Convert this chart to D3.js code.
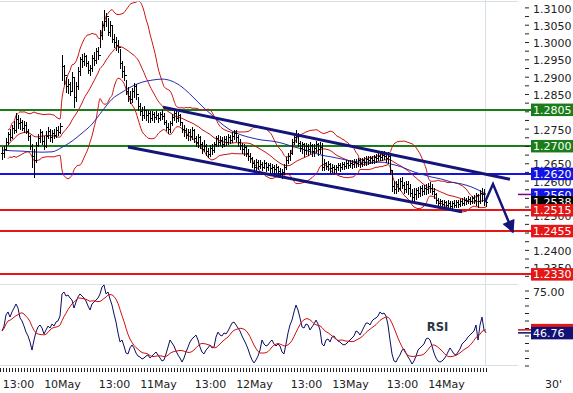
<!DOCTYPE html>
<html>
<head>
<meta charset="utf-8">
<script src="https://cdn.jsdelivr.net/npm/d3@7"></script>
<style>
  html, body { margin: 0; padding: 0; background: #fff; }
  svg { display: block; }
</style>
</head>
<body>
<svg id="chart" width="573" height="393"></svg>
<script>
// EUR/USD 30' bars, first bar 9 May 09:00
const startTime = Date.UTC(2010, 4, 9, 9, 0);
const barMinutes = 30;

const highs = [
  1.2697,1.2700,1.2722,1.2741,1.2748,1.2760,1.2772,1.2795,1.2790,1.2782,
  1.2776,1.2772,1.2768,1.2750,1.2733,1.2705,1.2690,1.2712,1.2735,1.2748,
  1.2742,1.2728,1.2744,1.2755,1.2748,1.2746,1.2750,1.2755,1.2758,1.2766,
  1.2963,1.2935,1.2900,1.2892,1.2885,1.2913,1.2895,1.2885,1.2927,1.2958,
  1.2965,1.2968,1.2962,1.2945,1.2935,1.2962,1.2970,1.2982,1.2985,1.3034,
  1.3062,1.3092,1.3085,1.3068,1.3060,1.3045,1.3022,1.3014,1.3005,1.2980,
  1.2945,1.2930,1.2890,1.2870,1.2858,1.2868,1.2881,1.2878,1.2840,1.2825,
  1.2812,1.2815,1.2805,1.2803,1.2800,1.2800,1.2798,1.2802,1.2795,1.2798,
  1.2803,1.2795,1.2775,1.2765,1.2772,1.2792,1.2803,1.2800,1.2798,1.2792,
  1.2770,1.2760,1.2752,1.2750,1.2748,1.2754,1.2748,1.2730,1.2735,1.2730,
  1.2712,1.2717,1.2705,1.2695,1.2702,1.2705,1.2712,1.2730,1.2732,1.2728,
  1.2725,1.2730,1.2728,1.2735,1.2732,1.2740,1.2746,1.2746,1.2732,1.2720,
  1.2708,1.2705,1.2700,1.2690,1.2680,1.2668,1.2660,1.2662,1.2660,1.2658,
  1.2655,1.2659,1.2655,1.2652,1.2650,1.2648,1.2645,1.2648,1.2642,1.2635,
  1.2632,1.2648,1.2668,1.2680,1.2688,1.2720,1.2735,1.2746,1.2738,1.2715,
  1.2712,1.2708,1.2708,1.2705,1.2710,1.2706,1.2705,1.2715,1.2708,1.2712,
  1.2708,1.2662,1.2655,1.2656,1.2650,1.2648,1.2645,1.2646,1.2652,1.2650,
  1.2655,1.2655,1.2658,1.2659,1.2660,1.2658,1.2662,1.2662,1.2665,1.2665,
  1.2666,1.2668,1.2670,1.2670,1.2672,1.2672,1.2675,1.2678,1.2680,1.2682,
  1.2685,1.2685,1.2680,1.2682,1.2678,1.2630,1.2600,1.2600,1.2605,1.2608,
  1.2610,1.2595,1.2600,1.2598,1.2590,1.2575,1.2578,1.2580,1.2582,1.2585,
  1.2588,1.2588,1.2590,1.2592,1.2595,1.2590,1.2578,1.2565,1.2550,1.2548,
  1.2545,1.2544,1.2542,1.2544,1.2540,1.2542,1.2543,1.2545,1.2544,1.2548,
  1.2550,1.2552,1.2550,1.2555,1.2552,1.2556,1.2558,1.2565,1.2562,1.2572,
  1.2578,1.2575,1.2555
];
const lows = [
  1.2662,1.2668,1.2688,1.2705,1.2718,1.2722,1.2738,1.2740,1.2752,1.2748,
  1.2745,1.2740,1.2736,1.2716,1.2690,1.2640,1.2611,1.2655,1.2700,1.2712,
  1.2705,1.2692,1.2698,1.2722,1.2715,1.2712,1.2722,1.2726,1.2732,1.2738,
  1.2890,1.2880,1.2855,1.2852,1.2846,1.2862,1.2812,1.2830,1.2865,1.2905,
  1.2928,1.2933,1.2930,1.2910,1.2904,1.2915,1.2935,1.2939,1.2950,1.2985,
  1.3010,1.3034,1.3045,1.3020,1.3018,1.3000,1.2985,1.2977,1.2970,1.2925,
  1.2900,1.2890,1.2850,1.2830,1.2824,1.2828,1.2840,1.2835,1.2805,1.2790,
  1.2775,1.2780,1.2775,1.2770,1.2768,1.2775,1.2770,1.2778,1.2770,1.2775,
  1.2778,1.2762,1.2745,1.2737,1.2740,1.2760,1.2775,1.2770,1.2772,1.2760,
  1.2740,1.2730,1.2722,1.2717,1.2718,1.2720,1.2712,1.2700,1.2697,1.2695,
  1.2680,1.2685,1.2675,1.2668,1.2670,1.2678,1.2682,1.2700,1.2700,1.2702,
  1.2697,1.2700,1.2702,1.2705,1.2708,1.2712,1.2720,1.2715,1.2700,1.2692,
  1.2680,1.2675,1.2670,1.2659,1.2655,1.2640,1.2630,1.2628,1.2632,1.2635,
  1.2630,1.2635,1.2628,1.2630,1.2625,1.2626,1.2622,1.2625,1.2620,1.2612,
  1.2607,1.2618,1.2632,1.2650,1.2660,1.2678,1.2705,1.2712,1.2700,1.2685,
  1.2680,1.2672,1.2678,1.2675,1.2680,1.2670,1.2672,1.2682,1.2675,1.2680,
  1.2630,1.2630,1.2632,1.2630,1.2626,1.2625,1.2621,1.2624,1.2630,1.2628,
  1.2632,1.2634,1.2635,1.2636,1.2638,1.2635,1.2640,1.2638,1.2642,1.2640,
  1.2642,1.2645,1.2646,1.2648,1.2650,1.2652,1.2652,1.2655,1.2658,1.2660,
  1.2660,1.2662,1.2655,1.2650,1.2620,1.2570,1.2564,1.2565,1.2570,1.2572,
  1.2578,1.2565,1.2568,1.2560,1.2555,1.2540,1.2538,1.2548,1.2552,1.2555,
  1.2558,1.2560,1.2562,1.2565,1.2568,1.2560,1.2550,1.2535,1.2525,1.2523,
  1.2525,1.2522,1.2520,1.2524,1.2520,1.2522,1.2524,1.2525,1.2524,1.2526,
  1.2530,1.2530,1.2532,1.2534,1.2532,1.2535,1.2536,1.2530,1.2525,1.2535,
  1.2540,1.2530,1.2528
];
const closes = [
  1.2680,1.2692,1.2712,1.2735,1.2726,1.2752,1.2745,1.2778,1.2766,1.2770,
  1.2752,1.2760,1.2744,1.2728,1.2700,1.2672,1.2660,1.2702,1.2722,1.2740,
  1.2715,1.2700,1.2730,1.2742,1.2725,1.2738,1.2732,1.2745,1.2740,1.2758,
  1.2930,1.2905,1.2872,1.2880,1.2858,1.2900,1.2840,1.2872,1.2915,1.2950,
  1.2945,1.2960,1.2940,1.2918,1.2925,1.2955,1.2948,1.2975,1.2962,1.3020,
  1.3050,1.3060,1.3075,1.3030,1.3048,1.3010,1.3000,1.2990,1.2985,1.2940,
  1.2915,1.2905,1.2860,1.2845,1.2835,1.2860,1.2872,1.2850,1.2815,1.2800,
  1.2790,1.2805,1.2788,1.2795,1.2780,1.2792,1.2785,1.2790,1.2782,1.2792,
  1.2786,1.2770,1.2755,1.2748,1.2765,1.2785,1.2795,1.2780,1.2788,1.2768,
  1.2750,1.2745,1.2732,1.2740,1.2728,1.2745,1.2722,1.2710,1.2725,1.2705,
  1.2690,1.2700,1.2685,1.2678,1.2695,1.2688,1.2705,1.2722,1.2710,1.2718,
  1.2705,1.2720,1.2712,1.2725,1.2718,1.2730,1.2738,1.2725,1.2710,1.2702,
  1.2690,1.2698,1.2680,1.2672,1.2665,1.2650,1.2640,1.2655,1.2642,1.2648,
  1.2640,1.2650,1.2638,1.2645,1.2635,1.2640,1.2632,1.2638,1.2628,1.2620,
  1.2625,1.2640,1.2660,1.2672,1.2680,1.2712,1.2725,1.2730,1.2708,1.2695,
  1.2705,1.2688,1.2700,1.2690,1.2702,1.2685,1.2695,1.2705,1.2690,1.2698,
  1.2640,1.2650,1.2642,1.2648,1.2635,1.2640,1.2632,1.2638,1.2645,1.2640,
  1.2648,1.2642,1.2650,1.2645,1.2652,1.2648,1.2655,1.2650,1.2658,1.2652,
  1.2660,1.2655,1.2662,1.2658,1.2665,1.2660,1.2668,1.2664,1.2672,1.2668,
  1.2675,1.2670,1.2665,1.2672,1.2630,1.2585,1.2575,1.2590,1.2580,1.2598,
  1.2588,1.2575,1.2590,1.2580,1.2565,1.2552,1.2560,1.2572,1.2565,1.2578,
  1.2570,1.2580,1.2575,1.2585,1.2580,1.2570,1.2560,1.2545,1.2535,1.2540,
  1.2532,1.2538,1.2530,1.2536,1.2528,1.2535,1.2530,1.2538,1.2532,1.2540,
  1.2536,1.2545,1.2540,1.2548,1.2542,1.2550,1.2545,1.2558,1.2540,1.2565,
  1.2560,1.2548,1.2538
];
const rsiValues = [
  48.0,51.3,58.7,60.7,57.3,60.7,63.3,66.0,63.3,56.7,
  54.7,51.3,47.3,44.7,40.7,35.3,42.0,47.3,50.7,52.0,
  50.0,46.0,48.7,51.3,50.0,52.7,51.3,54.0,54.7,58.0,
  72.7,74.0,71.3,72.0,70.0,68.7,63.3,67.3,70.7,72.7,
  71.3,70.0,68.0,64.7,62.0,66.0,67.3,68.7,70.0,72.7,
  77.3,78.7,72.7,74.0,69.3,65.3,59.3,54.0,46.7,40.7,
  42.0,38.0,33.3,32.7,36.7,38.7,36.7,33.3,31.3,30.7,
  29.3,30.0,31.3,32.0,30.0,31.3,32.7,34.0,32.0,30.0,
  28.0,28.7,32.7,37.3,42.0,40.0,38.0,34.7,32.0,30.0,
  27.3,30.0,34.0,37.3,40.7,42.7,44.0,45.3,42.0,37.3,
  34.0,32.7,35.3,36.7,38.7,36.7,37.3,44.0,47.3,45.3,
  44.7,46.7,46.0,48.0,50.7,53.3,54.0,52.0,50.0,48.0,
  44.7,42.0,39.3,36.0,32.0,28.7,26.7,28.7,31.3,35.3,
  42.0,39.3,38.0,38.7,40.7,42.0,39.3,38.0,39.3,38.0,
  34.0,32.7,39.3,46.7,52.0,55.3,60.7,65.3,62.0,56.7,
  50.7,50.0,52.7,52.0,48.7,50.7,52.7,55.3,52.7,48.7,
  39.3,38.0,42.0,42.7,40.7,44.0,44.7,42.7,41.3,40.7,
  39.3,38.7,39.3,40.7,42.0,43.3,44.7,48.0,47.3,45.3,
  48.0,50.7,53.3,53.3,52.0,54.7,56.0,56.7,58.0,60.7,
  59.3,60.0,58.0,52.0,42.0,32.7,28.0,27.3,30.0,32.0,
  35.3,36.0,33.3,30.7,28.7,26.0,28.0,31.3,35.3,36.7,
  38.0,39.3,42.7,43.3,42.0,38.0,33.3,30.0,28.0,27.3,
  28.0,29.3,31.3,34.0,36.7,34.7,32.7,32.0,34.0,36.0,
  39.3,40.7,42.0,44.0,45.3,46.7,48.0,52.0,42.0,52.0,
  57.3,48.7,46.76
];

// slow moving average (blue), read every 5 bars
const maBars = [0,5,10,15,20,25,30,35,40,45,50,55,60,65,70,75,80,85,90,95,
  100,105,110,115,120,125,130,135,140,145,150,155,160,165,170,175,180,185,190,195,
  200,205,210,215,220,225,230,235,240,242];
const maValues = [1.2688,1.2686,1.2685,1.2683,1.2682,1.2683,1.2696,1.2714,1.2737,1.2763,
  1.2800,1.2835,1.2855,1.2872,1.2884,1.2890,1.2893,1.2887,1.2870,1.2844,
  1.2815,1.2789,1.2763,1.2743,1.2731,1.2723,1.2717,1.2714,1.2708,1.2699,
  1.2691,1.2682,1.2673,1.2668,1.2662,1.2656,1.2653,1.2653,1.2653,1.2647,
  1.2639,1.2627,1.2618,1.2610,1.2604,1.2595,1.2590,1.2581,1.2567,1.2560];

const levelPrices = [1.2805, 1.2700, 1.2620, 1.2515, 1.2455, 1.2330];
const levelKinds = ["resistance", "resistance", "pivot", "support", "support", "support"];

const channelUpper = [["2010-05-11T01:15:00Z", 1.2812], ["2010-05-14T16:00:00Z", 1.2604]];
const channelLower = [["2010-05-10T16:30:00Z", 1.2697], ["2010-05-14T04:00:00Z", 1.2510]];
const forecast = [["2010-05-14T09:45:00Z", 1.2538], ["2010-05-14T11:45:00Z", 1.2590], ["2010-05-14T16:45:00Z", 1.2451]];

const kindColor = {resistance: "#1a7d1a", pivot: "#1414e0", support: "#e41616"};
const navy = "#14147a";
const font = "DejaVu Sans, Verdana, sans-serif";

const svg = d3.select("#chart");

// layout
const plotRight = 518, axisX = 525, boxX = 531;
const priceTop = 1.5, priceBottom = 284.5, rsiBottom = 365;

const x = d3.scaleUtc()
    .domain([new Date(Date.UTC(2010, 4, 9, 8, 30)), new Date(Date.UTC(2010, 4, 14, 18, 0))])
    .range([0, plotRight]);
const y = d3.scaleLinear().domain([1.2300, 1.3117]).range([priceBottom, priceTop]);
const yr = d3.scaleLinear().domain([25, 75]).range([365.5, 290.5]);

const barTime = i => new Date(startTime + i * barMinutes * 60000);
const bars = closes.map((c, i) => ({t: barTime(i), h: highs[i], l: lows[i], c: c, o: i ? closes[i - 1] : c}));
const lastT = bars[bars.length - 1].t;

// bollinger 20 / 2
const bb = closes.map((c, i) => {
    if (i < 3) return null;
    const w = closes.slice(Math.max(0, i - 19), i + 1);
    const m = d3.mean(w);
    const sd = Math.sqrt(d3.mean(w, v => (v - m) * (v - m)));
    return {t: barTime(i), m: m, up: m + 2 * sd, lo: m - 2 * sd};
}).filter(d => d);

// rsi signal (sma 9)
const rsiSig = rsiValues.map((v, i) => d3.mean(rsiValues.slice(Math.max(0, i - 8), i + 1)));

svg.append("defs").append("clipPath").attr("id", "pclip")
    .append("rect").attr("x", 0).attr("y", priceTop).attr("width", plotRight).attr("height", priceBottom - priceTop);
svg.select("defs").append("marker")
    .attr("id", "head").attr("viewBox", "0 0 10 10").attr("refX", 9).attr("refY", 5)
    .attr("markerWidth", 14).attr("markerHeight", 13).attr("markerUnits", "userSpaceOnUse")
    .attr("orient", "auto")
    .append("path").attr("d", "M0,0L10,5L0,10z").attr("fill", navy);

// panel frame
const frame = svg.append("g").attr("stroke", "#d6e0e8").attr("stroke-width", 1).attr("shape-rendering", "crispEdges");
[priceTop, priceBottom, rsiBottom].forEach(v => {
    frame.append("line").attr("x1", 0).attr("x2", plotRight).attr("y1", v).attr("y2", v);
});
frame.append("line")
    .attr("x1", x(lastT) - 0.5).attr("x2", x(lastT) - 0.5)
    .attr("y1", 0).attr("y2", rsiBottom);

// horizontal levels
svg.append("g").attr("shape-rendering", "crispEdges")
    .selectAll("line").data(levelPrices).enter().append("line")
    .attr("x1", 0).attr("x2", boxX)
    .attr("y1", d => y(d)).attr("y2", d => y(d))
    .attr("stroke", (d, i) => kindColor[levelKinds[i]])
    .attr("stroke-width", 2);

const price = svg.append("g").attr("clip-path", "url(#pclip)");

// bollinger bands
["up", "m", "lo"].forEach(k => {
    price.append("path").datum(bb)
        .attr("fill", "none").attr("stroke", "#cc1414").attr("stroke-width", 1)
        .attr("d", d3.line().x(d => x(d.t)).y(d => y(d[k])).curve(d3.curveMonotoneX));
});

// slow MA
price.append("path").datum(maBars.map((b, i) => ({t: barTime(b), v: maValues[i]})))
    .attr("fill", "none").attr("stroke", "#2a2ab0").attr("stroke-width", 1)
    .attr("d", d3.line().x(d => x(d.t)).y(d => y(d.v)).curve(d3.curveMonotoneX));

// HLC bars
const bx = d => Math.round(x(d.t)) + 0.5;
const by = v => Math.round(y(v)) + 0.5;
const bg = price.append("g").attr("stroke", "#000").attr("stroke-width", 1).attr("shape-rendering", "crispEdges");
bg.selectAll(".hl").data(bars).enter().append("line")
    .attr("x1", bx).attr("x2", bx)
    .attr("y1", d => Math.round(y(d.h))).attr("y2", d => Math.round(y(d.l)) + 1);
bg.selectAll(".op").data(bars).enter().append("line")
    .attr("x1", d => bx(d) - 1.5).attr("x2", bx)
    .attr("y1", d => by(d.o)).attr("y2", d => by(d.o));
bg.selectAll(".cl").data(bars).enter().append("line")
    .attr("x1", bx).attr("x2", d => bx(d) + 1.5)
    .attr("y1", d => by(d.c)).attr("y2", d => by(d.c));

// channel
[channelUpper, channelLower].forEach(ch => {
    price.append("line")
        .attr("x1", x(new Date(ch[0][0]))).attr("y1", y(ch[0][1]))
        .attr("x2", x(new Date(ch[1][0]))).attr("y2", y(ch[1][1]))
        .attr("stroke", navy).attr("stroke-width", 3);
});

// forecast arrow
price.append("path").datum(forecast)
    .attr("fill", "none").attr("stroke", navy).attr("stroke-width", 2.5)
    .attr("marker-end", "url(#head)")
    .attr("d", d3.line().x(d => x(new Date(d[0]))).y(d => y(d[1])));

// RSI panel
const rsiLine = d3.line().x((d, i) => x(barTime(i))).y(d => yr(d));
svg.append("path").datum(rsiValues)
    .attr("fill", "none").attr("stroke", "#0c0c66").attr("stroke-width", 1).attr("d", rsiLine);
svg.append("path").datum(rsiSig)
    .attr("fill", "none").attr("stroke", "#d01010").attr("stroke-width", 1).attr("d", rsiLine);

svg.append("text").attr("x", 437.5).attr("y", 331)
    .attr("text-anchor", "middle").attr("font-family", font).attr("font-weight", "bold")
    .attr("font-size", 11.5).attr("fill", "#2b3846").text("RSI");

// value boxes (drawn later) hide the tick labels right under them
const fmtP = d3.format(".4f");
const maLast = maValues[maValues.length - 1];
const closeLast = closes[closes.length - 1];
const boxPrices = levelPrices.concat([maLast, closeLast]);
const hidden = v => boxPrices.some(p => Math.abs(y(p) - y(v)) < 4);

// price axis
const priceTicks = d3.range(93, 125).map(k => k * 0.0025 + 1.0);
const pAxis = d3.axisRight(y).tickValues(priceTicks).tickSize(4).tickPadding(4)
    .tickFormat(v => Math.round(v * 10000) % 50 === 0 && !hidden(v) ? fmtP(v) : "");
const gp = svg.append("g").attr("transform", `translate(${axisX},0)`).call(pAxis);

const rsiTicks = d3.range(25, 76, 5);
const rAxis = d3.axisRight(yr).tickValues(rsiTicks).tickSize(4).tickPadding(4)
    .tickFormat(v => v === 75 ? d3.format(".2f")(v) : "");
const gr = svg.append("g").attr("transform", `translate(${axisX},0)`).call(rAxis);

[gp, gr].forEach(g => {
    g.select(".domain").remove();
    g.attr("font-family", font).attr("font-size", 11).attr("color", "#222");
    g.selectAll("text").attr("dy", "0.42em");
});

// time axis
const tickTimes = d3.range(+x.domain()[0], +lastT + 1, 45 * 60000).map(d => new Date(d));
const gt = svg.append("g").attr("transform", `translate(0,368)`)
    .call(d3.axisBottom(x).tickValues(tickTimes).tickSize(4).tickFormat(""));
gt.select(".domain").remove();
gt.attr("color", "#222");

const labelTimes = d3.utcHour.range(x.domain()[0], lastT).filter(d => d.getUTCHours() === 0 || d.getUTCHours() === 13);
const fmtDay = d3.utcFormat("%-d%b"), fmtHour = d3.utcFormat("%H:%M");
const gx = svg.append("g").attr("transform", `translate(0,388)`)
    .call(d3.axisBottom(x).tickValues(labelTimes).tickSize(0)
        .tickFormat(d => d.getUTCHours() === 0 ? fmtDay(d) : fmtHour(d)));
gx.select(".domain").remove();
gx.attr("font-family", font).attr("font-size", 11).attr("color", "#222");
gx.selectAll("text").attr("y", 0).attr("dy", null);

svg.append("text").attr("x", 545).attr("y", 388)
    .attr("font-family", font).attr("font-size", 11).attr("fill", "#222").text("30'");

// value boxes
function valueBox(v, yScale, color, label, markColor) {
    const yy = yScale(v);
    if (markColor) {
        svg.append("line").attr("x1", plotRight).attr("x2", boxX).attr("y1", yy).attr("y2", yy)
            .attr("stroke", markColor).attr("stroke-width", 1.5);
    }
    svg.append("rect").attr("x", boxX).attr("y", yy - 6).attr("width", 573 - boxX).attr("height", 12.5)
        .attr("fill", color);
    if (label) {
        svg.append("text").attr("x", boxX + 2).attr("y", yy).attr("dy", "0.38em")
            .attr("font-family", font).attr("font-size", 11).attr("fill", "#fff").text(label);
    }
}
valueBox(maLast, y, "#1414e0", fmtP(maLast), "#800080");
valueBox(closeLast, y, "#000", fmtP(closeLast), null);
levelPrices.forEach((p, i) => valueBox(p, y, kindColor[levelKinds[i]], fmtP(p), null));

const sigLast = rsiSig[rsiSig.length - 1];
const rsiLast = rsiValues[rsiValues.length - 1];
valueBox(sigLast, yr, "#e41616", null, "#d01010");
valueBox(rsiLast, yr, "#121275", d3.format(".2f")(rsiLast), "#0c0c66");
</script>
</body>
</html>
